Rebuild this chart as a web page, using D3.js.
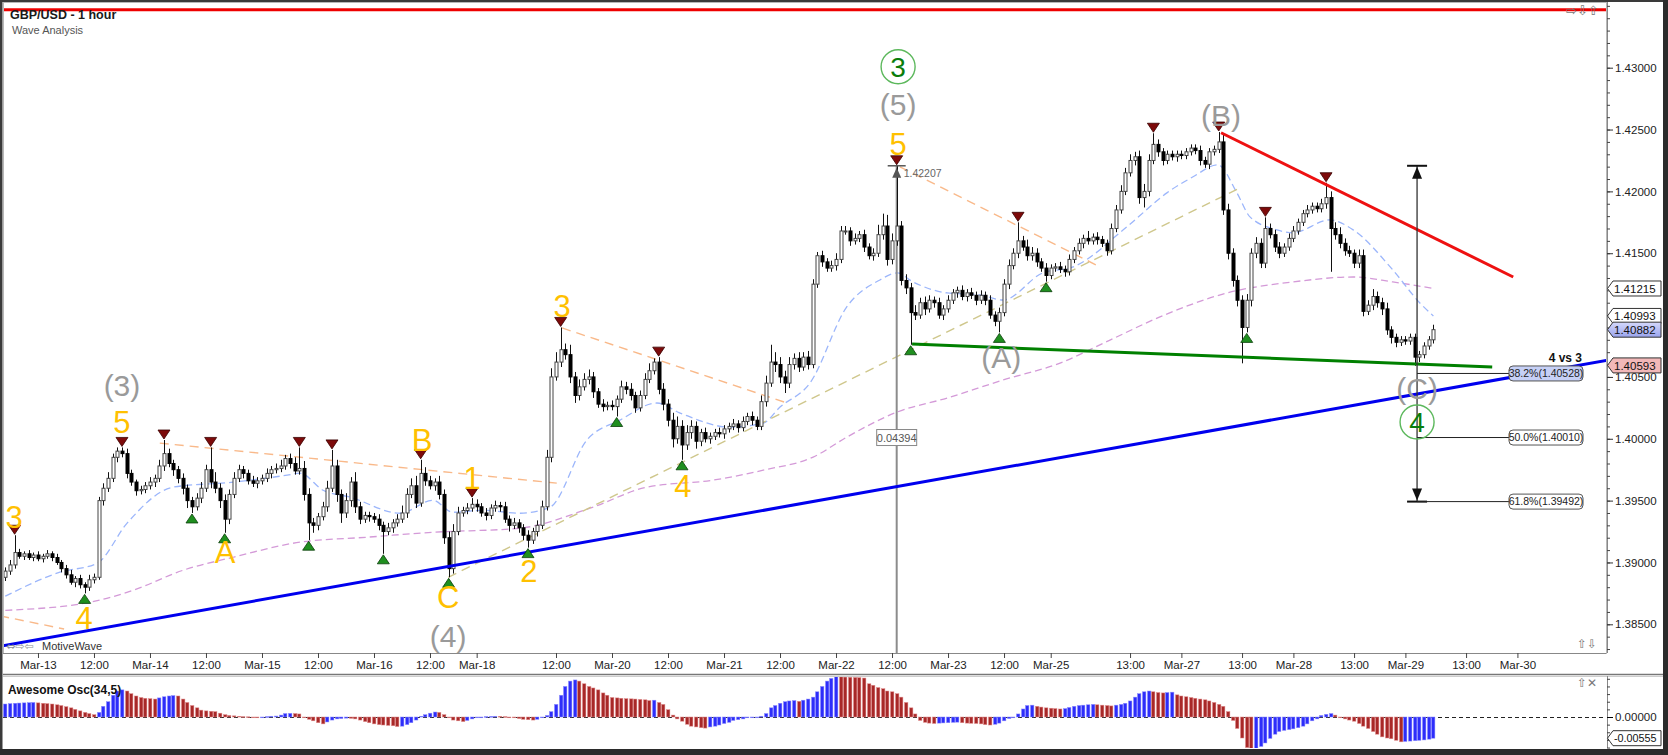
<!DOCTYPE html>
<html><head><meta charset="utf-8">
<script src="https://cdn.jsdelivr.net/npm/d3@7"></script>
<style>
html,body{margin:0;padding:0;background:#fff;}
svg{display:block;font-family:"Liberation Sans",Arial,Helvetica,sans-serif;}
</style></head><body>
<svg id="c" width="1668" height="755"></svg>
<script>
// ---------------- DATA ----------------
const firstOpen = 1.3888;
const closes = [
1.3893,1.3898,1.3908,1.3905,1.3907,1.3904,1.3906,1.3903,1.3905,1.3907,
1.3904,1.3900,1.3895,1.3890,1.3884,1.3887,1.3882,1.3880,1.3886,1.3888,
1.3950,1.3960,1.3968,1.3985,1.3990,1.3988,1.3972,1.3965,1.3958,1.3959,
1.3962,1.3965,1.3968,1.3978,1.3988,1.3980,1.3975,1.3968,1.3960,1.3950,
1.3945,1.3952,1.3960,1.3975,1.3965,1.3960,1.3950,1.3935,1.3955,1.3968,
1.3975,1.3972,1.3966,1.3964,1.3966,1.3968,1.3972,1.3975,1.3976,1.3978,
1.3984,1.3980,1.3974,1.3976,1.3955,1.3932,1.3930,1.3937,1.3945,1.3960,
1.3978,1.3955,1.3940,1.3950,1.3965,1.3945,1.3935,1.3938,1.3937,1.3935,
1.3930,1.3925,1.3928,1.3932,1.3935,1.3940,1.3955,1.3962,1.3948,1.3972,
1.3966,1.3962,1.3965,1.3955,1.3920,1.3895,1.3925,1.3940,1.3942,1.3944,
1.3947,1.3945,1.3940,1.3938,1.3944,1.3946,1.3945,1.3935,1.3930,1.3932,
1.3928,1.3922,1.3918,1.3925,1.3930,1.3945,1.3985,1.4050,1.4062,1.4072,
1.4068,1.4050,1.4035,1.4042,1.4048,1.4050,1.4038,1.4028,1.4026,1.4027,
1.4026,1.4032,1.4042,1.4040,1.4035,1.4025,1.4035,1.4048,1.4055,1.4062,
1.4040,1.4028,1.4015,1.4000,1.4010,1.3995,1.4005,1.4010,1.3998,1.4005,
1.4000,1.4002,1.4005,1.4004,1.4008,1.4010,1.4012,1.4009,1.4014,1.4018,
1.4015,1.4010,1.4030,1.4045,1.4062,1.4060,1.4050,1.4045,1.4060,1.4065,
1.4058,1.4066,1.4060,1.4125,1.4148,1.4143,1.4138,1.4140,1.4145,1.4168,
1.4168,1.4160,1.4162,1.4165,1.4155,1.4148,1.4150,1.4165,1.4172,1.4145,
1.4160,1.4172,1.4128,1.4122,1.4102,1.4100,1.4110,1.4105,1.4112,1.4110,
1.4100,1.4105,1.4112,1.4118,1.4120,1.4115,1.4118,1.4116,1.4112,1.4116,
1.4112,1.4100,1.4095,1.4102,1.4125,1.4140,1.4150,1.4160,1.4155,1.4148,
1.4150,1.4143,1.4138,1.4132,1.4138,1.4139,1.4137,1.4135,1.4145,1.4152,
1.4158,1.4162,1.4160,1.4163,1.4161,1.4158,1.4152,1.4170,1.4185,1.4200,
1.4215,1.4225,1.4228,1.4195,1.4200,1.4225,1.4238,1.4232,1.4225,1.4230,
1.4228,1.4230,1.4229,1.4232,1.4235,1.4233,1.4225,1.4222,1.4232,1.4234,
1.4240,1.4185,1.4150,1.4128,1.4112,1.4090,1.4112,1.4150,1.4158,1.4142,
1.4170,1.4165,1.4155,1.4150,1.4155,1.4162,1.4168,1.4175,1.4182,1.4185,
1.4188,1.4186,1.4190,1.4195,1.4170,1.4165,1.4158,1.4152,1.4150,1.4142,
1.4148,1.4103,1.4108,1.4115,1.4110,1.4105,1.4088,1.4082,1.4078,1.4080,
1.4079,1.4082,1.4066,1.4068,1.4075,1.4080,1.40882];
// wick lengths beyond the body, in pips
const upWick = [
3,4,14,3,2,3,2,3,2,3, 2,3,2,3,4,2,3,2,4,3, 3,4,5,3,3,3,4,3,2,3, 3,4,3,5,11,4,3,3,4,3,
3,4,5,4,18,8,4,5,4,5, 4,3,3,4,3,3,4,3,4,5, 3,4,5,17,6,5,4,3,4,6, 13,5,4,6,4,8,4,3,3,3,
4,3,4,3,4,6,5,6,8,11, 5,4,3,5,4,5,6,5,3,4, 5,4,3,4,3,4,3,4,3,4, 3,3,4,3,4,5,6,7,8,18,
5,8,4,6,5,6,4,3,4,3, 4,3,5,4,5,3,4,5,6,3, 4,5,4,6,8,5,6,5,4,3, 4,3,3,4,3,3,4,3,4,3,
4,3,5,6,14,8,6,5,6,4, 5,4,5,4,3,4,3,4,5,4, 4,3,4,3,4,3,4,8,10,9, 6,48.7,4,5,4,6,4,5,4,3,
4,3,4,3,3,4,3,4,3,4, 3,4,3,4,4,5,4,15,4,6, 5,4,3,4,3,3,4,3,4,3, 4,3,6,3,4,3,3,4,4,5,
4,5,4,5,6,5,9,4,3,3, 3,3,3,3,3,3,4,3,3,3, 8,6,5,4,4,4,5,4,5,4, 9,4,4,4,3,4,4,3,3,4,
3,3,4,12,5,5,6,4,4,3, 5,5,4,6,4,4,5,3,3,3, 3,3,3,3,3,3,4];
const dnWick = [
3,3,3,2,3,2,3,2,3,2, 3,2,3,3,2,4,3,5,3,3, 2,4,3,3,4,3,4,3,4,3, 3,3,4,3,4,3,5,4,5,6,
5,3,4,3,5,4,6,11,4,3, 3,4,3,3,4,3,3,4,3,3, 3,4,3,3,5,14,6,4,3,4, 3,6,8,4,5,5,4,3,4,3,
4,18,3,4,3,3,4,3,4,3, 4,3,4,4,5,7,4,3,3,3, 3,4,3,4,3,3,4,3,5,3, 4,4,6,3,4,3,3,4,3,4,
4,5,6,4,3,4,5,3,4,3, 3,8,3,4,4,4,3,3,3,3, 4,5,5,7,4,12,4,5,6,4, 3,4,3,3,4,3,3,4,3,3,
4,3,3,4,3,6,5,8,4,4, 4,3,4,3,3,4,3,3,4,3, 3,4,3,3,4,3,4,3,4,5, 4,4,4,5,26,4,3,5,3,4,
3,4,3,3,4,3,4,3,4,3, 4,3,4,9,3,4,3,4,3,4, 4,4,3,5,3,3,3,4,3,3, 3,4,3,3,4,3,4,3,3,3,
3,3,4,5,8,4,3,4,4,3, 3,4,3,3,3,3,4,3,4,3, 3,4,5,5,5,29,4,5,4,4, 4,3,4,4,3,3,3,3,3,3,
3,3,3,4,35,4,4,4,3,4, 4,4,3,4,4,5,4,5,4,3, 3,3,7,4,3,3,3];
// Awesome Oscillator values, in pips (1e-4)
const aoPips = [
34,35,36,36.5,37,37.5,38,37,36,35, 34,32,30,27,24,20,16,12,9,6,
12,28,40,57,68,71,68,61,55,51, 49,48,47,50,53,55,56,55,47,38,
30,24,18,16,15,14,10,6,4,3, 2,1,0.5,0,-1,0,1,2,2.5,5,
9,9.5,9,8,-2,-6,-10,-15,-18,-13, -8,-5,-4,-3,-3.5,-5,-8,-12,-15,-18,
-20,-21,-22,-23,-25,-24,-20,-15,-8,2, 6,10,13,12,6,-2,-8,-10,-12,-9,
-5,-2,0,1,1.5,2,1.8,1,0,-2, -4,-6,-7,-8,-6,-2,4,14,33,57,
80,94,97,94,87,80,76,71,63,57, 51,50,49,48,47.5,47,46,45,43,44,
38,33,19,5,-5,-11,-19,-24,-26,-28, -29,-26,-24,-21,-17,-14,-9,-7,-5,-2,
-1,0,2,9,24,30,36,40,42,43, 41,44,47,52,66,80,94,101,106,105,
104.5,104,103.5,103,102,87,83,77,74,68, 66,61,52,38,24,8,-9,-14,-16,-17,
-16,-15.5,-15,-14,-13.5,-15,-16,-16.5,-17,-18, -20,-21,-19,-16,-10,-4,0,8,21,30,
31,28,26,24,23,22,21,22,25,28, 30,31,32,33,32,31,30,29,31,33,
36,42,52,61,66,68,66,64,63,64, 65,58,55,53,51,49,47,45,42,38,
33,28,14,-9,-30,-55,-80,-85,-82,-77, -68,-56,-45,-38,-35,-33,-31,-28,-24,-18,
-10,-5,4,7,9,5,0,-5,-8,-11, -17,-24,-30,-38,-45,-52,-55,-57,-61,-65,
-64,-63,-62,-61,-60,-58,-55.5];

const xTickIdx = [7,19,31,43,55,67,79,91,101,118,130,142,154,166,178,190,202,214,224,241,252,265,276,289,300,313,324];
const xTickLbl = ["Mar-13","12:00","Mar-14","12:00","Mar-15","12:00","Mar-16","12:00","Mar-18","12:00","Mar-20","12:00","Mar-21","12:00","Mar-22","12:00","Mar-23","12:00","Mar-25","13:00","Mar-27","13:00","Mar-28","13:00","Mar-29","13:00","Mar-30"];
const priceTicks = [1.385,1.39,1.395,1.40,1.405,1.41,1.415,1.42,1.425,1.43];

// moving averages: [bar index, price]
const maFast = [[0,1.38727],[11.7,1.38921],[19.7,1.38994],[26.1,1.39318],[36,1.39609],[48.8,1.39649],[60.4,1.39706],[63.1,1.39722],[68.1,1.39584],[73.9,1.39528],[84.6,1.39398],[91.6,1.39503],[95.9,1.39406],[102.4,1.39422],[110.3,1.39398],[116.7,1.39447],[124.6,1.39989],[131.7,1.40151],[139.6,1.40289],[144.6,1.40208],[155.3,1.40094],[162.4,1.40127],[166,1.40256],[172.4,1.4045],[180.3,1.41066],[187.4,1.41284],[191.1,1.41341],[194.5,1.41268],[201.8,1.41179],[208.8,1.41163],[213.8,1.41122],[222.3,1.41341],[228.8,1.41389],[240.3,1.41713],[248.9,1.41988],[254.5,1.42118],[259.8,1.42215],[263.9,1.41988],[266.7,1.41794],[272.5,1.41689],[275.9,1.41665],[283.8,1.4177],[288.8,1.41689],[297.3,1.41365],[303.1,1.41098],[306,1.40993]];
const maSlow = [[0,1.38613],[18.1,1.38678],[27.4,1.38775],[38.1,1.38937],[48.8,1.39042],[63.1,1.39164],[77.5,1.39204],[91.6,1.39244],[110.3,1.39277],[125.3,1.39439],[137.5,1.39609],[151.6,1.39665],[162.4,1.39746],[173.1,1.39852],[180.3,1.40013],[191.1,1.40216],[201.8,1.40329],[213.8,1.40475],[226,1.40612],[236.7,1.40798],[247.4,1.40985],[261.8,1.41179],[275.9,1.41268],[288.8,1.41308],[297.3,1.41268],[306,1.41215]];
// projection lines: [i1,p1,i2,p2]
const orangeLines = [[-1.1,1.38568,12.6,1.38462],[33.1,1.39965,118.2,1.39641],[119.3,1.40896,167.5,1.40289],[191.7,1.42199,234.6,1.41389]];
const khakiLines = [[94.9,1.3888,264.6,1.42029]];
const trendLines = [
  {seg:[-1.2,1.38322,343.5,1.40637], color:"#0000ee"},
  {seg:[194.3,1.40766,318.6,1.4058], color:"#008000"},
  {seg:[260.5,1.42474,323.1,1.41308], color:"#ee1111"},
  {seg:[-2,1.43469,343,1.43469], color:"#ee0000"}];
const pivHigh = [2,25,34,44,63,70,89,100,119,140,191,217,246,260,270,283];
const pivLow = [17,40,47,65,81,95,112,131,145,194,213,223,266];
const labelsOrange = [["3",1.9,1.39366],["4",16.9,1.38556],["5",25,1.40135],["A",47.1,1.39083],["B",89.3,1.39989],["C",94.9,1.38718],["1",100,1.39681],["2",112.2,1.38929],["3",119.3,1.41074],["4",145.2,1.39617],["5",191.3,1.42385]];
const labelsGray = [["(3)",25,1.40434],["(4)",94.9,1.38403],["(5)",191.3,1.42701],["(A)",213.4,1.40661],["(B)",260.5,1.4262],["(C)",302.5,1.4041]];
const labelsCircle = [["3",191.3,1.43008],["4",302.5,1.40135]];
const waveTop = 1.42207, waveRange = 0.04394;
const fibLevels = [["38.2%",1.40528],["50.0%",1.4001],["61.8%",1.39492]];
const valueTags = [[1.41215,"#fff"],[1.40993,"#fff"],[1.40882,"#aab2f2"],[1.40593,"#f2b8b8"]];
const aoLast = -0.00555;

// ---------------- DRAW ----------------
const W=1668,H=755, PL=3, PR=1606, PT=2, PB=653, OT=676, OB=748;
const svg=d3.select("#c");
svg.append("rect").attr("width",W).attr("height",H).attr("fill","#fff");
const x=d3.scaleLinear().domain([0,343]).range([5.3,5.3+343*4.667]);
const y=d3.scaleLinear().domain([1.385,1.43]).range([624.3,67.7]);
const yo=d3.scaleLinear().domain([aoLast,0]).range([738.2,717]);
const defs=svg.append("defs");
defs.append("clipPath").attr("id","cp").append("rect").attr("x",PL).attr("y",PT).attr("width",PR-PL).attr("height",PB-PT);
defs.append("clipPath").attr("id","co").append("rect").attr("x",PL).attr("y",OT).attr("width",PR-PL).attr("height",OB-OT);
const grad=defs.append("linearGradient").attr("id","gb").attr("x1",0).attr("y1",0).attr("x2",0).attr("y2",1);
grad.append("stop").attr("offset",0).attr("stop-color","#d4d8fa");grad.append("stop").attr("offset",1).attr("stop-color","#9aa4ee");

const bars=closes.map((c,i)=>{const o=i?closes[i-1]:firstOpen;return {i,o,c,h:Math.max(o,c)+upWick[i]*1e-4,l:Math.min(o,c)-dnWick[i]*1e-4};});

const g=svg.append("g").attr("clip-path","url(#cp)");
const line=d3.line().x(d=>x(d[0])).y(d=>y(d[1])).curve(d3.curveMonotoneX);
g.append("path").attr("d",line(maSlow)).attr("fill","none").attr("stroke","#d49ad8").attr("stroke-width",1.3).attr("stroke-dasharray","7,4");
g.append("path").attr("d",line(maFast)).attr("fill","none").attr("stroke","#9cb6fb").attr("stroke-width",1.3).attr("stroke-dasharray","7,4");
g.selectAll(".or").data(orangeLines).join("line").attr("x1",d=>x(d[0])).attr("y1",d=>y(d[1])).attr("x2",d=>x(d[2])).attr("y2",d=>y(d[3])).attr("stroke","#f9b98a").attr("stroke-width",1.4).attr("stroke-dasharray","9,6");
g.selectAll(".kh").data(khakiLines).join("line").attr("x1",d=>x(d[0])).attr("y1",d=>y(d[1])).attr("x2",d=>x(d[2])).attr("y2",d=>y(d[3])).attr("stroke","#cfc78c").attr("stroke-width",1.4).attr("stroke-dasharray","9,6");

// gray wave-length line
const xg=x(191);
g.append("line").attr("x1",xg).attr("x2",xg).attr("y1",y(waveTop)).attr("y2",y(waveTop-waveRange)).attr("stroke","#8c8c8c").attr("stroke-width",2);

// candles
g.selectAll(".wk").data(bars).join("line").attr("x1",d=>Math.round(x(d.i))+0.5).attr("x2",d=>Math.round(x(d.i))+0.5).attr("y1",d=>y(d.h)).attr("y2",d=>y(d.l)).attr("stroke","#111").attr("stroke-width",1);
g.selectAll(".bd").data(bars).join("rect").attr("x",d=>Math.round(x(d.i))-1).attr("width",3)
 .attr("y",d=>y(Math.max(d.o,d.c))).attr("height",d=>Math.max(1,Math.abs(y(d.o)-y(d.c))))
 .attr("fill",d=>d.c>=d.o?"#fff":"#000").attr("stroke",d=>d.c>=d.o?"#444":"#000").attr("stroke-width",1);

// thick trend lines
g.selectAll(".tl").data(trendLines).join("line").attr("x1",d=>x(d.seg[0])).attr("y1",d=>y(d.seg[1])).attr("x2",d=>x(d.seg[2])).attr("y2",d=>y(d.seg[3])).attr("stroke",d=>d.color).attr("stroke-width",3);

// gray measure top I-beam + label
g.append("line").attr("x1",xg-9).attr("x2",xg+9).attr("y1",y(waveTop)).attr("y2",y(waveTop)).attr("stroke","#555").attr("stroke-width",1.5);
g.append("path").attr("d",`M${xg},${y(waveTop)+2}L${xg-4.5},${y(waveTop)+12}L${xg+4.5},${y(waveTop)+12}Z`).attr("fill","#555");
g.append("text").attr("x",xg+7).attr("y",y(waveTop)+11).attr("font-size",10.5).attr("fill","#666").text(waveTop.toFixed(5));
const midY=(y(waveTop)+y(waveTop-waveRange))/2;
g.append("rect").attr("x",xg-20).attr("y",midY-8).attr("width",40).attr("height",16).attr("fill","#fff").attr("stroke","#888");
g.append("text").attr("x",xg).attr("y",midY+4).attr("text-anchor","middle").attr("font-size",11).attr("fill","#555").text(waveRange.toFixed(5));

// black fib measure
const xm=x(302.5), yT=y(waveTop), yB=y(fibLevels[2][1]);
g.append("line").attr("x1",xm).attr("x2",xm).attr("y1",yT).attr("y2",yB).attr("stroke","#333").attr("stroke-width",1.3);
g.append("line").attr("x1",xm-10).attr("x2",xm+10).attr("y1",yT).attr("y2",yT).attr("stroke","#111").attr("stroke-width",2);
g.append("line").attr("x1",xm-10).attr("x2",xm+10).attr("y1",yB).attr("y2",yB).attr("stroke","#111").attr("stroke-width",2);
g.append("path").attr("d",`M${xm},${yT+1}L${xm-5},${yT+13}L${xm+5},${yT+13}Z`).attr("fill","#111");
g.append("path").attr("d",`M${xm},${yB-1}L${xm-5},${yB-13}L${xm+5},${yB-13}Z`).attr("fill","#111");
fibLevels.forEach((f,k)=>{
  const yy=y(f[1]);
  g.append("line").attr("x1",xm).attr("x2",1509).attr("y1",yy).attr("y2",yy).attr("stroke","#222").attr("stroke-width",1);
  g.append("rect").attr("x",1509).attr("y",yy-7.5).attr("width",74).attr("height",15).attr("rx",4).attr("fill",k===0?"#c6d0f6":"#fff").attr("stroke","#555");
  g.append("text").attr("x",1546).attr("y",yy+3.8).attr("text-anchor","middle").attr("font-size",10.5).attr("fill","#222").text(`${f[0]}(${f[1].toFixed(5)})`);
});
g.append("text").attr("x",1582).attr("y",362).attr("text-anchor","end").attr("font-size",12).attr("font-weight","bold").attr("fill","#111").text("4 vs 3");

// pivot markers
g.selectAll(".ph").data(pivHigh).join("path").attr("d",i=>{const X=x(i),Y=y(bars[i].h);return `M${X-6},${Y-10}L${X+6},${Y-10}L${X},${Y-1}Z`;}).attr("fill","#7d0a0a").attr("stroke","#3a0000").attr("stroke-width",0.8);
g.selectAll(".pl").data(pivLow).join("path").attr("d",i=>{const X=x(i),Y=y(bars[i].l);return `M${X-6},${Y+10}L${X+6},${Y+10}L${X},${Y+1}Z`;}).attr("fill","#1f8f1f").attr("stroke","#0a3d0a").attr("stroke-width",0.8);

// wave labels
g.selectAll(".lo").data(labelsOrange).join("text").attr("x",d=>x(d[1])).attr("y",d=>y(d[2])).attr("dy","0.36em").attr("text-anchor","middle").attr("font-size",31).attr("fill","#ffc000").text(d=>d[0]);
g.selectAll(".lg").data(labelsGray).join("text").attr("x",d=>x(d[1])).attr("y",d=>y(d[2])).attr("dy","0.36em").attr("text-anchor","middle").attr("font-size",30).attr("fill","#9a9a9a").text(d=>d[0]);
labelsCircle.forEach(d=>{
  g.append("circle").attr("cx",x(d[1])).attr("cy",y(d[2])).attr("r",17).attr("fill","none").attr("stroke","#5cb85c").attr("stroke-width",1.4);
  g.append("text").attr("x",x(d[1])).attr("y",y(d[2])).attr("dy","0.36em").attr("text-anchor","middle").attr("font-size",28).attr("fill","#0a7d0a").text(d[0]);
});

// ---------- oscillator ----------
const go=svg.append("g").attr("clip-path","url(#co)");
go.append("line").attr("x1",PL).attr("x2",PR).attr("y1",yo(0)+0.5).attr("y2",yo(0)+0.5).attr("stroke","#222").attr("stroke-dasharray","4,3");
go.selectAll(".ao").data(aoPips).join("rect")
 .attr("x",(v,i)=>Math.round(x(i))-1.5).attr("width",3.4)
 .attr("y",v=>Math.min(yo(v*1e-4),yo(0))).attr("height",v=>Math.max(0.8,Math.abs(yo(v*1e-4)-yo(0))))
 .attr("fill",(v,i)=>(i===0||v>aoPips[i-1])?"#2d2dfa":"#a82828")
 .attr("stroke",(v,i)=>(i===0||v>aoPips[i-1])?"#8a8aff":"#e08a8a").attr("stroke-width",0.5);
svg.append("text").attr("x",8).attr("y",694).attr("font-size",12).attr("font-weight","bold").attr("fill","#111").text("Awesome Osc(34,5)");

// ---------- frames ----------
svg.append("rect").attr("x",PL+0.5).attr("y",PT+0.5).attr("width",PR-PL).attr("height",PB-PT).attr("fill","none").attr("stroke","#b8b8b8");
svg.append("line").attr("x1",PL).attr("x2",1663).attr("y1",674.5).attr("y2",674.5).attr("stroke","#777").attr("stroke-width",1.5);
svg.append("line").attr("x1",PL).attr("x2",1663).attr("y1",676.5).attr("y2",676.5).attr("stroke","#ccc");
svg.append("line").attr("x1",1607.5).attr("x2",1607.5).attr("y1",PT).attr("y2",PB).attr("stroke","#888");
svg.append("line").attr("x1",1607.5).attr("x2",1607.5).attr("y1",OT).attr("y2",OB).attr("stroke","#888");

// x axis
const xa=svg.append("g").attr("transform",`translate(0,${PB})`).call(d3.axisBottom(x).tickValues(xTickIdx).tickFormat((d,k)=>xTickLbl[k]).tickSize(5).tickPadding(3));
xa.select(".domain").attr("stroke","#888").attr("d",`M${PL},0.5H${PR}`);
xa.selectAll(".tick line").attr("stroke","#444");
xa.selectAll("text").attr("font-size",11.5).attr("fill","#222").attr("font-family","Liberation Sans, Arial, sans-serif");

// y axis (price)
const yAx=d3.scaleLinear().domain([y.invert(PB),y.invert(PT)]).range([PB,PT]);
const ymin=svg.append("g").attr("transform","translate(1607,0)").call(d3.axisRight(yAx).ticks(52).tickSize(3).tickFormat(""));
ymin.select(".domain").remove(); ymin.selectAll(".tick line").attr("stroke","#444");
const ya=svg.append("g").attr("transform","translate(1607,0)").call(d3.axisRight(y).tickValues(priceTicks).tickFormat(d3.format(".5f")).tickSize(6).tickPadding(2));
ya.select(".domain").remove(); ya.selectAll(".tick line").attr("stroke","#333");
ya.selectAll("text").attr("font-size",11.5).attr("fill","#222").attr("font-family","Liberation Sans, Arial, sans-serif");

// value tags
function tag(yy,txt,fill,fs){
  const t=svg.append("g");
  t.append("path").attr("d",`M1607.5,${yy}L1613,${yy-7.5}H1661V${yy+7.5}H1613Z`).attr("fill",fill).attr("stroke","#333");
  t.append("text").attr("x",1614).attr("y",yy+4.2).attr("font-size",fs||11.5).attr("fill","#111").text(txt);
}
valueTags.forEach(v=>tag(y(v[0]),v[0].toFixed(5),v[1]==="#aab2f2"?"url(#gb)":v[1]));

// oscillator axis
const yoAx=d3.scaleLinear().domain([yo.invert(OB),yo.invert(OT)]).range([OB,OT]);
const om=svg.append("g").attr("transform","translate(1607,0)").call(d3.axisRight(yoAx).ticks(12).tickSize(3).tickFormat(""));
om.select(".domain").remove(); om.selectAll(".tick line").attr("stroke","#444");
const oa=svg.append("g").attr("transform","translate(1607,0)").call(d3.axisRight(yo).tickValues([0]).tickFormat(d3.format(".5f")).tickSize(6).tickPadding(2));
oa.select(".domain").remove(); oa.selectAll("text").attr("font-size",11.5).attr("fill","#222");
tag(yo(aoLast),aoLast.toFixed(5),"#fff",10.8);

// title & misc text
svg.append("text").attr("x",10).attr("y",19).attr("font-size",12.5).attr("font-weight","bold").attr("fill","#1a1a1a").text("GBP/USD - 1 hour");
svg.append("text").attr("x",12).attr("y",34).attr("font-size",11).attr("fill","#555").text("Wave Analysis");
svg.append("text").attr("x",6).attr("y",650).attr("font-size",11).attr("fill","#8a9096").attr("font-family","DejaVu Sans").text("⇔⇨⇦");
svg.append("text").attr("x",42).attr("y",650).attr("font-size",11).attr("fill","#333").text("MotiveWave");
svg.append("text").attr("x",1566).attr("y",15).attr("font-size",13).attr("fill","#777").attr("font-family","DejaVu Sans").text("⇨⇩⇧");
svg.append("text").attr("x",1577).attr("y",648).attr("font-size",12).attr("fill","#777").attr("font-family","DejaVu Sans").text("⇧⇩");
svg.append("text").attr("x",1577).attr("y",687).attr("font-size",12).attr("fill","#777").attr("font-family","DejaVu Sans").text("⇧✕");

// outer dark borders
svg.append("rect").attr("x",0).attr("y",0).attr("width",W).attr("height",2).attr("fill","#3a3a3a");
svg.append("rect").attr("x",0).attr("y",0).attr("width",2.5).attr("height",H).attr("fill","#3a3a3a");
svg.append("rect").attr("x",1663).attr("y",0).attr("width",5).attr("height",H).attr("fill","#2b2b2b");
svg.append("rect").attr("x",0).attr("y",749).attr("width",W).attr("height",6).attr("fill","#2b2b2b");
</script>
</body></html>
